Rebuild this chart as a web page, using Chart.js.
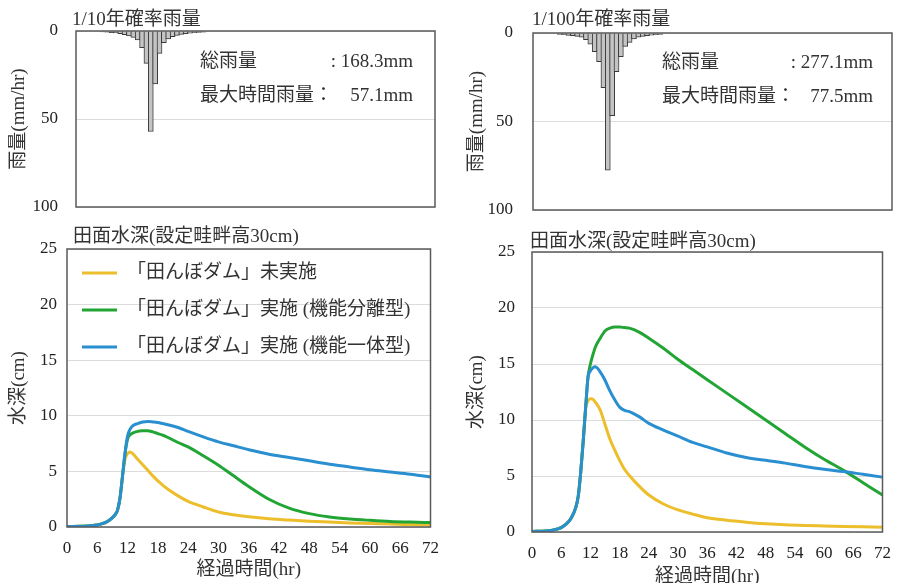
<!DOCTYPE html>
<html>
<head>
<meta charset="utf-8">
<script src="https://cdn.jsdelivr.net/npm/chart.js@4.4.0/dist/chart.umd.min.js"></script>
<style>
html,body{margin:0;padding:0;background:#fff;overflow:hidden;width:902px;height:583px;}
.box{position:absolute;}
</style>
</head>
<body>
<div class="box" style="left:0;top:0;width:450px;height:220px"><canvas id="rain10"></canvas></div>
<div class="box" style="left:450px;top:0;width:452px;height:220px"><canvas id="rain100"></canvas></div>
<div class="box" style="left:0;top:220px;width:450px;height:363px"><canvas id="depth10"></canvas></div>
<div class="box" style="left:450px;top:220px;width:452px;height:370px"><canvas id="depth100"></canvas></div>
<script>
// hourly rainfall (mm/hr), hour 1..24
const rainHours = [1,2,3,4,5,6,7,8,9,10,11,12,13,14,15,16,17,18,19,20,21,22,23,24];
const rain10 = [0.5,0.7,0.9,1.1,1.5,2.1,2.8,3.6,5.1,9.5,18.4,57.1,30.0,12.7,6.6,4.5,3.2,2.5,1.9,1.5,1.2,1.0,0.8,0.7];
const rain100 = [0.8,1.0,1.3,1.5,1.9,2.3,3.8,6.3,10.5,16.2,30.9,77.5,46.7,21.9,13.4,7.6,5.3,3.4,2.3,1.9,1.5,1.2,1.0,0.8];

// water depth (cm) over elapsed time (hr)
const hours = [0,3,6,7,8,9,9.5,10,10.5,11,11.5,12,12.5,13,14,15,16,17,18,19,20,22,24,27,30,33,36,40,44,48,52,56,60,64,68,72];

const depth10None = [0.05,0.07,0.18,0.3,0.5,0.85,1.1,1.5,2.6,4.6,6.1,6.6,6.75,6.6,6.1,5.6,5.1,4.6,4.15,3.75,3.4,2.8,2.3,1.8,1.35,1.1,0.92,0.74,0.62,0.52,0.44,0.37,0.31,0.26,0.22,0.18];
const depth10Sep = [0.05,0.07,0.18,0.3,0.5,0.85,1.1,1.5,2.6,4.6,6.6,7.9,8.3,8.45,8.6,8.65,8.66,8.55,8.4,8.25,8.05,7.6,7.2,6.4,5.55,4.6,3.65,2.5,1.7,1.2,0.9,0.72,0.6,0.5,0.44,0.4];
const depth10One = [0.05,0.07,0.18,0.3,0.5,0.85,1.1,1.5,2.6,4.6,6.7,8.2,8.8,9.1,9.3,9.45,9.48,9.45,9.4,9.3,9.2,8.95,8.6,8.1,7.65,7.3,6.95,6.55,6.25,5.95,5.65,5.4,5.15,4.95,4.75,4.5];

const depth100None = [0.05,0.1,0.4,0.7,1.2,2.2,3.2,5.3,8.0,11.0,11.7,11.9,11.85,11.6,10.9,9.6,8.3,7.3,6.4,5.6,5.05,4.1,3.3,2.5,1.98,1.6,1.28,1.05,0.88,0.74,0.64,0.58,0.54,0.5,0.46,0.42];
const depth100Sep = [0.05,0.1,0.4,0.7,1.2,2.2,3.2,5.3,8.0,11.0,13.8,15.0,15.8,16.5,17.3,17.95,18.2,18.3,18.3,18.25,18.2,17.85,17.3,16.4,15.4,14.5,13.6,12.4,11.2,10.0,8.8,7.6,6.5,5.5,4.4,3.3];
const depth100One = [0.05,0.1,0.4,0.7,1.2,2.2,3.2,5.3,8.0,11.0,13.8,14.4,14.65,14.75,14.3,13.55,12.6,11.8,11.15,10.85,10.75,10.3,9.7,9.1,8.55,8.0,7.6,7.05,6.65,6.4,6.15,5.85,5.6,5.4,5.15,4.9];

const seriesNames = ["「田んぼダム」未実施", "「田んぼダム」実施 (機能分離型)", "「田んぼダム」実施 (機能一体型)"];
const seriesColors = ["#EDBE2C", "#22A535", "#2A8FD0"];

const SERIF = "'Liberation Serif', 'Noto Sans CJK JP', serif";

function pts(xs, ys){
  return xs.map((x, i) => ({x: x, y: ys[i]}));
}

// fixed axis width, and no extra room reserved for the end tick labels
function fixWidth(w){
  return s => {
    s.width = w;
    s.paddingTop = 0;
    s.paddingBottom = 0;
  };
}

function deco(texts, withLegend){
  return {
    id: "deco",
    afterDatasetsDraw(chart){
      const a = chart.chartArea, c = chart.ctx;
      c.save();
      c.strokeStyle = "#5a5a5a";
      c.lineWidth = 1.5;
      c.strokeRect(a.left, a.top, a.right - a.left, a.bottom - a.top);
      c.fillStyle = "#333";
      c.textBaseline = "middle";
      texts.forEach(t => {
        c.font = (t.size || 19) + "px " + SERIF;
        c.textAlign = t.align || "left";
        c.fillText(t.text, t.x, t.y);
      });
      if(withLegend){
        chart.data.datasets.forEach((d, i) => {
          const y = a.top + 24 + i * 37;
          c.strokeStyle = d.borderColor;
          c.lineWidth = 3;
          c.beginPath();
          c.moveTo(a.left + 15, y);
          c.lineTo(a.left + 50, y);
          c.stroke();
          c.font = "19px " + SERIF;
          c.textAlign = "left";
          c.fillText(d.label, a.left + 60, y);
        });
      }
      c.restore();
    }
  };
}

function rainChart(id, values, pad, yw, tickPad, titlePad, texts){
  return new Chart(document.getElementById(id), {
    type: "bar",
    data: {
      datasets: [{
        data: pts(rainHours, values),
        backgroundColor: "#C4C4C4",
        borderColor: "#3a3a3a",
        borderWidth: 1,
        barThickness: 5
      }]
    },
    options: {
      responsive: true,
      maintainAspectRatio: false,
      animation: false,
      layout: {padding: pad},
      plugins: {legend: {display: false}, tooltip: {enabled: false}},
      scales: {
        x: {type: "linear", min: 0, max: 72, display: false},
        y: {
          reverse: true, min: 0, max: 100,
          afterFit: fixWidth(yw),
          ticks: {stepSize: 50, padding: tickPad, color: "#222", font: {family: SERIF, size: 17}},
          grid: {color: "#dcdcdc", drawTicks: false},
          border: {display: false},
          title: {display: true, text: "雨量(mm/hr)", color: "#333", padding: {top: titlePad, bottom: 0}, font: {family: SERIF, size: 19}}
        }
      }
    },
    plugins: [deco(texts, false)]
  });
}

function depthChart(id, vals, pad, yw, xh, yTickPad, yTitlePad, texts){
  const datasets = vals.map((v, i) => ({
    label: seriesNames[i],
    data: pts(hours, v),
    borderColor: seriesColors[i],
    borderWidth: 3,
    pointRadius: 0,
    cubicInterpolationMode: "monotone",
    order: 2 - i
  }));
  return new Chart(document.getElementById(id), {
    type: "line",
    data: {datasets: datasets},
    options: {
      responsive: true,
      maintainAspectRatio: false,
      animation: false,
      layout: {padding: pad},
      plugins: {legend: {display: false}, tooltip: {enabled: false}},
      scales: {
        x: {
          type: "linear", min: 0, max: 72,
          afterFit: s => { s.height = xh; },
          ticks: {stepSize: 6, padding: 11, color: "#222", maxRotation: 0, font: {family: SERIF, size: 17}},
          grid: {display: false, drawTicks: false},
          border: {display: false},
          title: {display: true, text: "経過時間(hr)", color: "#333", padding: {top: 0, bottom: 1.6}, font: {family: SERIF, size: 19}}
        },
        y: {
          min: 0, max: 25,
          afterFit: fixWidth(yw),
          ticks: {stepSize: 5, padding: yTickPad, color: "#222", font: {family: SERIF, size: 17}},
          grid: {color: "#dcdcdc", drawTicks: false},
          border: {display: false},
          title: {display: true, text: "水深(cm)", color: "#333", padding: {top: yTitlePad, bottom: 0}, font: {family: SERIF, size: 19}}
        }
      }
    },
    plugins: [deco(texts, id === "depth10")]
  });
}

rainChart("rain10", rain10, {left: 0, top: 31, right: 15, bottom: 13}, 76, 18, 7.6, [
  {text: "1/10年確率雨量", x: 72, y: 20},
  {text: "総雨量", x: 200, y: 62},
  {text: ": 168.3mm", x: 413, y: 62, align: "right"},
  {text: "最大時間雨量：", x: 200, y: 96},
  {text: "57.1mm", x: 413, y: 96, align: "right"}
]);

rainChart("rain100", rain100, {left: 0, top: 33, right: 10, bottom: 10}, 83, 20, 15.6, [
  {text: "1/100年確率雨量", x: 82, y: 20},
  {text: "総雨量", x: 212, y: 63},
  {text: ": 277.1mm", x: 423, y: 63, align: "right"},
  {text: "最大時間雨量：", x: 212, y: 97},
  {text: "77.5mm", x: 423, y: 97, align: "right"}
]);

depthChart("depth10", [depth10None, depth10Sep, depth10One], {left: 0, top: 29, right: 14, bottom: 0}, 67, 56, 10, 7.6, [
  {text: "田面水深(設定畦畔高30cm)", x: 73, y: 17.5}
]);

depthChart("depth100", [depth100None, depth100Sep, depth100One], {left: 0, top: 32, right: 9, bottom: 0}, 82, 58, 17, 15.3, [
  {text: "田面水深(設定畦畔高30cm)", x: 80, y: 22}
]);
</script>
</body>
</html>
